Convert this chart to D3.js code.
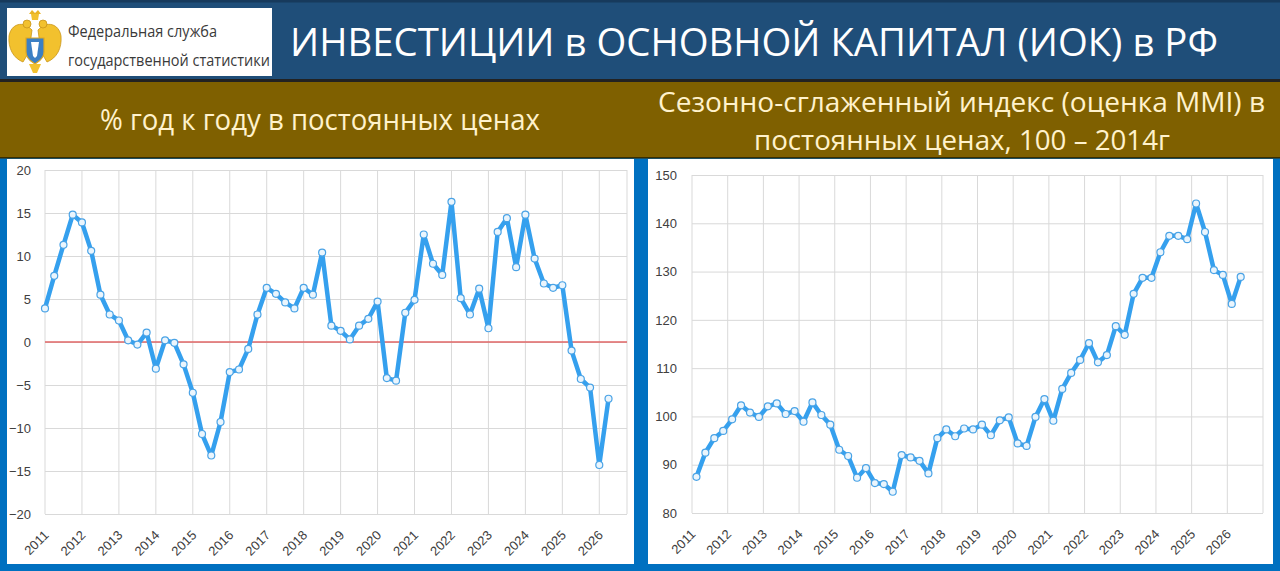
<!DOCTYPE html>
<meta charset="utf-8">
<style>
body {
	margin: 0;
	background: #0070c0;
}
svg {
	display: block;
	font-family: "Open Sans", "Noto Sans", sans-serif;
}
.grid line {
	stroke: #d9d9d9;
	stroke-width: 1px;
}
.axis text {
	font-size: 13px;
	fill: #404040;
}
.line {
	fill: none;
	stroke: #35a0ee;
	stroke-width: 4.5px;
	stroke-linejoin: round;
	stroke-linecap: round;
}
.dot {
	fill: #eaf5fd;
	stroke: #4aa3e6;
	stroke-width: 1.2px;
}
</style>
<body>
<svg id="main" width="1280" height="571"></svg>
<script src="https://d3js.org/d3.v7.min.js"></script>
<script>
// categories: quarters 2011Q1 .. 2026Q4
var years = [2011, 2012, 2013, 2014, 2015, 2016, 2017, 2018, 2019, 2020, 2021, 2022, 2023, 2024, 2025, 2026];
var quarterNames = ["Q1", "Q2", "Q3", "Q4"];

// % year on year, constant prices
var yoyValues = [3.9, 7.7, 11.3, 14.8, 13.9, 10.6, 5.5, 3.2, 2.5, 0.2, -0.3, 1.1,
	-3.1, 0.2, -0.1, -2.6, -5.9, -10.7, -13.2, -9.3, -3.5, -3.2, -0.8, 3.2,
	6.3, 5.6, 4.6, 3.9, 6.3, 5.5, 10.4, 1.9, 1.3, 0.3, 1.9, 2.7,
	4.7, -4.2, -4.5, 3.4, 4.9, 12.5, 9.1, 7.8, 16.3, 5.1, 3.2, 6.2,
	1.6, 12.8, 14.4, 8.7, 14.8, 9.7, 6.8, 6.3, 6.6, -1.0, -4.3, -5.3,
	-14.3, -6.6];

// seasonally adjusted index, 2014 = 100
var indexValues = [87.5, 92.5, 95.5, 97.0, 99.4, 102.3, 100.8, 99.9, 102.1, 102.7,
	100.5, 101.1, 98.9, 102.9, 100.3, 98.3, 93.1, 91.8, 87.3, 89.3,
	86.2, 86.0, 84.4, 92.0, 91.5, 90.8, 88.2, 95.5, 97.3, 95.9,
	97.5, 97.3, 98.3, 96.1, 99.2, 99.8, 94.4, 93.9, 99.9, 103.6,
	99.1, 105.7, 109.0, 111.7, 115.2, 111.2, 112.7, 118.7, 116.9, 125.4,
	128.7, 128.7, 134.0, 137.4, 137.4, 136.7, 144.1, 138.2, 130.3, 129.3,
	123.3, 128.9];

var yoyTicks = [-20, -15, -10, -5, 0, 5, 10, 15, 20];
var indexTicks = [80, 90, 100, 110, 120, 130, 140, 150];

var quarters = [];
years.forEach(function(y) {
	quarterNames.forEach(function(q) { quarters.push(y + q); });
});
var yearStarts = quarters.filter(function(q) { return q.slice(4) == "Q1"; });

var svg = d3.select("#main");

// ---------- header ----------
svg.append("rect").attr("x", 0).attr("y", 0).attr("width", 1280).attr("height", 80).attr("fill", "#1f4e79");
svg.append("rect").attr("x", 0).attr("y", 0).attr("width", 1280).attr("height", 2.5).attr("fill", "#173a5c");
svg.append("rect").attr("x", 0).attr("y", 79).attr("width", 1280).attr("height", 3).attr("fill", "#222");
svg.append("rect").attr("x", 0).attr("y", 82).attr("width", 1280).attr("height", 76).attr("fill", "#7f6000");
svg.append("rect").attr("x", 0).attr("y", 157).attr("width", 1280).attr("height", 1.5).attr("fill", "#3a2e00");

// logo box
svg.append("rect").attr("x", 7).attr("y", 8).attr("width", 265).attr("height", 68).attr("fill", "#fff");

// simple emblem
var em = svg.append("g").attr("transform", "translate(35,44)");
em.append("path")
	.attr("d", "M-3,-14 C-12,-24 -24,-20 -26,-8 C-27,4 -22,14 -12,18 L-6,8 Z")
	.attr("fill", "#f2c12e").attr("stroke", "#c9961a").attr("stroke-width", 0.8);
em.append("path")
	.attr("d", "M3,-14 C12,-24 24,-20 26,-8 C27,4 22,14 12,18 L6,8 Z")
	.attr("fill", "#f2c12e").attr("stroke", "#c9961a").attr("stroke-width", 0.8);
em.append("circle").attr("cx", -8).attr("cy", -20).attr("r", 4).attr("fill", "#f2c12e").attr("stroke", "#c9961a").attr("stroke-width", 0.8);
em.append("circle").attr("cx", 8).attr("cy", -20).attr("r", 4).attr("fill", "#f2c12e").attr("stroke", "#c9961a").attr("stroke-width", 0.8);
em.append("path").attr("d", "M-6,-30 L-3,-34 L0,-31 L3,-34 L6,-30 Z").attr("fill", "#e9b424");
em.append("path").attr("d", "M-4,-30 L4,-30 L3,-24 L-3,-24 Z").attr("fill", "#f2c12e");
em.append("path")
	.attr("d", "M-9,-6 L9,-6 L9,8 C9,15 3,18 0,20 C-3,18 -9,15 -9,8 Z")
	.attr("fill", "#3b7fc4").attr("stroke", "#e0a820").attr("stroke-width", 1.2);
em.append("path").attr("d", "M-4,-2 L4,-2 L2,12 L0,14 L-2,12 Z").attr("fill", "#ffffff");
em.append("path").attr("d", "M-6,20 L-2,29 L2,29 L6,20 Z").attr("fill", "#f2c12e");

svg.append("text").attr("x", 68).attr("y", 37)
	.attr("font-size", 15.5).attr("fill", "#3a3a3a")
	.attr("textLength", 149).attr("lengthAdjust", "spacingAndGlyphs")
	.text("Федеральная служба");
svg.append("text").attr("x", 68).attr("y", 66)
	.attr("font-size", 15.5).attr("fill", "#3a3a3a")
	.attr("textLength", 202).attr("lengthAdjust", "spacingAndGlyphs")
	.text("государственной статистики");

svg.append("text").attr("x", 290).attr("y", 56)
	.attr("font-size", 38).attr("fill", "#ffffff")
	.attr("textLength", 928).attr("lengthAdjust", "spacingAndGlyphs")
	.text("ИНВЕСТИЦИИ в ОСНОВНОЙ КАПИТАЛ (ИОК) в РФ");

svg.append("text").attr("x", 100).attr("y", 130)
	.attr("font-size", 29).attr("fill", "#fff2cc")
	.attr("textLength", 440).attr("lengthAdjust", "spacingAndGlyphs")
	.text("% год к году в постоянных ценах");
svg.append("text").attr("x", 658).attr("y", 112)
	.attr("font-size", 28).attr("fill", "#fff2cc")
	.attr("textLength", 607).attr("lengthAdjust", "spacingAndGlyphs")
	.text("Сезонно-сглаженный индекс (оценка MMI) в");
svg.append("text").attr("x", 754).attr("y", 150)
	.attr("font-size", 28).attr("fill", "#fff2cc")
	.attr("textLength", 416).attr("lengthAdjust", "spacingAndGlyphs")
	.text("постоянных ценах, 100 – 2014г");

// ---------- panels ----------
svg.append("rect").attr("x", 7).attr("y", 159).attr("width", 627).attr("height", 405).attr("fill", "#fff");
svg.append("rect").attr("x", 648).attr("y", 159).attr("width", 625).attr("height", 405).attr("fill", "#fff");

// draws one chart; band = true puts points in the middle of categories
function drawChart(opt) {
	var g = svg.append("g");
	var x, px;
	if (opt.band) {
		x = d3.scaleBand().domain(quarters).range([opt.left, opt.right]);
		px = function(q) { return x(q) + x.bandwidth() / 2; };
	} else {
		x = d3.scalePoint().domain(quarters).range([opt.left, opt.right]);
		px = function(q) { return x(q); };
	}
	var y = d3.scaleLinear().domain(opt.domain).range([opt.bottom, opt.top]);

	// horizontal grid + y labels
	g.append("g")
		.attr("class", "grid axis")
		.attr("transform", "translate(" + opt.left + ",0)")
		.call(d3.axisLeft(y).tickValues(opt.ticks).tickSize(-(opt.right - opt.left)).tickPadding(opt.pad))
		.call(function(a) { a.select(".domain").remove(); });

	// vertical grid at year boundaries
	var vx = yearStarts.map(function(q) { return opt.band ? x(q) : px(q); });
	vx.push(opt.right);
	g.append("g").attr("class", "grid")
		.selectAll("line").data(vx).enter().append("line")
		.attr("x1", function(d) { return d; }).attr("x2", function(d) { return d; })
		.attr("y1", opt.top).attr("y2", opt.bottom);

	// year labels
	var xa = g.append("g")
		.attr("class", "axis")
		.attr("transform", "translate(0," + opt.bottom + ")")
		.call(d3.axisBottom(x).tickValues(yearStarts).tickSize(0)
			.tickFormat(function(q) { return q.slice(0, 4); }));
	xa.select(".domain").remove();
	if (opt.band) xa.selectAll(".tick").attr("transform", function(q) { return "translate(" + px(q) + ",0)"; });
	xa.selectAll("text")
		.attr("y", 0).attr("dy", 0)
		.attr("text-anchor", "end")
		.attr("transform", "translate(" + opt.lx + ",22) rotate(-45)");

	if (opt.zero) {
		g.append("line")
			.attr("x1", opt.left).attr("x2", opt.right)
			.attr("y1", y(0)).attr("y2", y(0))
			.attr("stroke", "#e06666").attr("stroke-width", 1.5);
	}

	var data = opt.values.map(function(v, i) { return {q: quarters[i], v: v}; });
	var line = d3.line().x(function(d) { return px(d.q); }).y(function(d) { return y(d.v); });
	g.append("path").datum(data).attr("class", "line").attr("d", line);
	g.selectAll(".dot").data(data).enter().append("circle")
		.attr("class", "dot")
		.attr("cx", function(d) { return px(d.q); })
		.attr("cy", function(d) { return y(d.v); })
		.attr("r", 3.5);
}

drawChart({values: yoyValues, ticks: yoyTicks, domain: [-20, 20],
	left: 45, right: 627, top: 170, bottom: 514, pad: 14, lx: 4, band: false, zero: true});
drawChart({values: indexValues, ticks: indexTicks, domain: [80, 150],
	left: 692, right: 1263, top: 175, bottom: 513, pad: 15, lx: 0, band: true, zero: false});
</script>
</body>
